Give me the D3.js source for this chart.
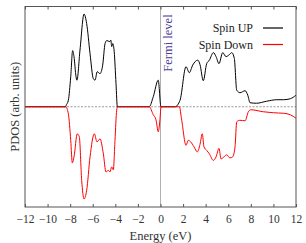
<!DOCTYPE html>
<html><head><meta charset="utf-8">
<script src="https://cdn.jsdelivr.net/npm/d3@7"></script>
<style>body{margin:0;background:#fff}svg{display:block}svg text{font-family:'Liberation Serif','DejaVu Serif',serif !important}</style>
</head><body><svg id="c" width="306" height="243"></svg>
<script>
const xTicks = [-12,-10,-8,-6,-4,-2,0,2,4,6,8,10,12];
const upEnergy = [-12,-8.4,-8.37,-8.16,-7.95,-7.78,-7.66,-7.48,-7.4,-7.13,-6.77,-6.54,-6.24,-5.95,-5.8,-5.6,-5.36,-5.12,-4.91,-4.76,-4.5,-4.4,-4.32,-4.23,-4.1,-3.94,-3.82,-1.0,-0.64,-0.2,0.04,1.29,1.73,2.26,2.55,2.85,3.3,3.5,3.79,4.09,4.33,4.68,4.92,5.18,5.51,5.8,6.1,6.31,6.54,6.75,7.04,7.49,7.73,7.93,8.5,9.4,10.3,10.9,11.5,12];
const upValues = [0,0,0.01,0.065,0.3,0.56,0.5,0.3,0.265,0.565,0.925,0.83,0.53,0.28,0.265,0.35,0.33,0.415,0.63,0.66,0.65,0.665,0.6,0.63,0.55,0.23,0,0,0.1,0.265,0,0,0.065,0.4,0.34,0.415,0.465,0.42,0.26,0.43,0.465,0.54,0.5,0.43,0.54,0.5,0.52,0.54,0.48,0.165,0.14,0.16,0.115,0.04,0.035,0.055,0.07,0.07,0.08,0.115];
const downEnergy = [-12,-8.4,-8.16,-7.95,-7.81,-7.66,-7.37,-7.19,-6.98,-6.77,-6.54,-6.24,-5.86,-5.62,-5.36,-5.06,-4.83,-4.62,-4.47,-4.32,-4.18,-4.03,-3.88,-3.8,-1.0,-0.64,-0.4,-0.2,-0.05,0.05,1.67,1.88,2.26,2.46,2.67,2.97,3.26,3.5,3.7,3.85,4.09,4.33,4.68,4.92,5.18,5.36,5.62,5.86,6.15,6.39,6.6,6.75,7.04,7.49,7.78,7.99,9.1,10.0,10.9,11.5,12];
const downValues = [0,0,-0.07,-0.335,-0.56,-0.5,-0.27,-0.3,-0.735,-0.92,-0.835,-0.5,-0.27,-0.35,-0.32,-0.47,-0.65,-0.635,-0.65,-0.6,-0.63,-0.335,-0.035,0,0,-0.08,-0.13,-0.25,-0.13,0,0,-0.135,-0.385,-0.335,-0.35,-0.4,-0.45,-0.375,-0.27,-0.4,-0.435,-0.47,-0.535,-0.5,-0.415,-0.52,-0.5,-0.48,-0.51,-0.5,-0.4,-0.15,-0.135,-0.14,-0.05,-0.03,-0.05,-0.06,-0.065,-0.08,-0.115];
const seriesNames = ["Spin UP","Spin Down"];
const seriesColors = ["#000000","#ff0000"];

const FONT = "'Liberation Serif','DejaVu Serif',serif";
const svg = d3.select("#c");
const L=25, R=296, T=6.5, B=207;
const x = d3.scaleLinear().domain([-12,12]).range([L,R]);
const y = d3.scaleLinear().domain([-1,1]).range([B,T]);

svg.append("line").attr("x1",L).attr("x2",R).attr("y1",y(0)).attr("y2",y(0))
  .attr("stroke","#999").attr("stroke-width",1.2).attr("stroke-dasharray","2,1.5");
svg.append("line").attr("x1",x(0)).attr("x2",x(0)).attr("y1",T).attr("y2",B)
  .attr("stroke","#b0b0b0").attr("stroke-width",1);

const line = d3.line().x(d=>x(d[0])).y(d=>y(d[1])).curve(d3.curveMonotoneX);
svg.append("path").datum(d3.zip(upEnergy,upValues)).attr("d",line)
  .attr("fill","none").attr("stroke",seriesColors[0]).attr("stroke-width",1);
svg.append("path").datum(d3.zip(downEnergy,downValues)).attr("d",line)
  .attr("fill","none").attr("stroke",seriesColors[1]).attr("stroke-width",1);

svg.append("rect").attr("x",L).attr("y",T).attr("width",R-L).attr("height",B-T)
  .attr("fill","none").attr("stroke","#555").attr("stroke-width",1);

const fmt = d3.format("d");
const ax = svg.append("g").attr("transform",`translate(0,${B})`)
  .call(d3.axisBottom(x).tickValues(xTicks).tickSize(-3).tickPadding(8).tickFormat(fmt))
  .attr("font-family",FONT);
ax.select(".domain").remove();
ax.selectAll("line").attr("stroke","#555");
ax.selectAll("text").attr("font-size",11.5).attr("fill","#333").style("font-family",FONT);
const axt = svg.append("g").attr("transform",`translate(0,${T})`)
  .call(d3.axisTop(x).tickValues(xTicks).tickSize(-3).tickFormat(""));
axt.select(".domain").remove();
axt.selectAll("line").attr("stroke","#555");

function txt(){ return svg.append("text").style("font-family",FONT); }
txt().attr("x",x(0)).attr("y",240).attr("text-anchor","middle")
  .attr("font-size",12.5).attr("fill","#333").text("Energy (eV)");
txt().attr("transform",`translate(19,${y(0)}) rotate(-90)`).attr("text-anchor","middle")
  .attr("font-size",12.5).attr("fill","#333").text("PDOS (arb. units)");
txt().attr("transform",`translate(172,43) rotate(-90)`).attr("text-anchor","middle")
  .attr("font-size",12.5).attr("fill","#4a3f9a").text("Fermi level");

seriesNames.forEach((n,i)=>{
  const yy = 28 + i*16.5;
  txt().attr("x",253).attr("y",yy+4).attr("text-anchor","end")
    .attr("font-size",12).attr("fill","#222").text(n);
  svg.append("line").attr("x1",263).attr("x2",283).attr("y1",yy).attr("y2",yy)
    .attr("stroke",seriesColors[i]).attr("stroke-width",1.2);
});
</script></body></html>
